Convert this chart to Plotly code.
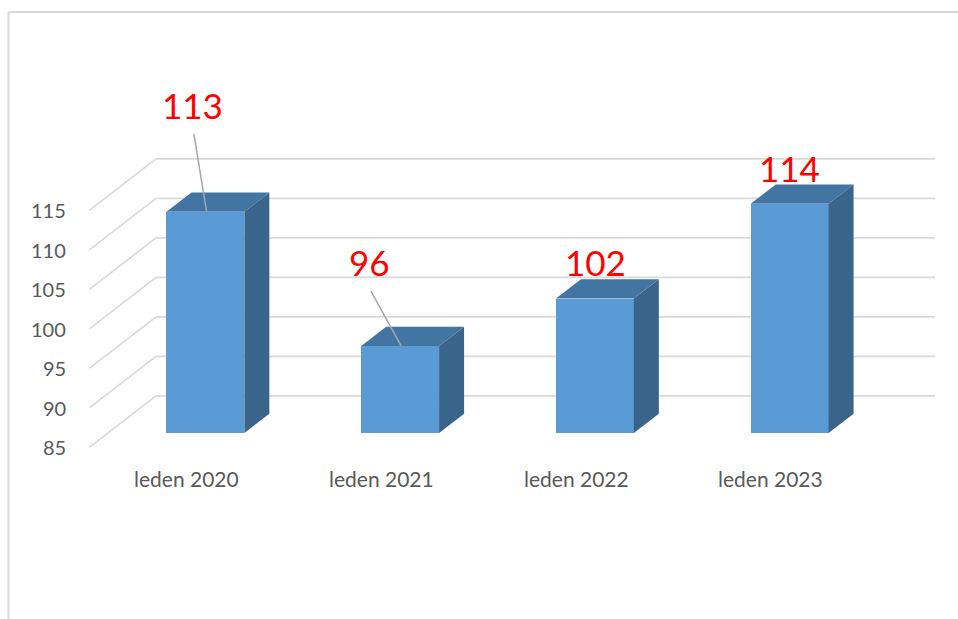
import plotly.graph_objects as go

# ---- data ----
categories = ["leden 2020", "leden 2021", "leden 2022", "leden 2023"]
values = [113, 96, 102, 114]
y_ticks = [85, 90, 95, 100, 105, 110, 115]

# ---- style / layout constants ----
BASE = 85
DX, DY = 0.3425, 6.506          # full depth offset of the 3-D box (axis units)
D0, D1 = 0.28, 0.655            # bar front / back depth fraction
W = 0.40                        # bar width (category units)
FRONT = "#5b9bd5"
TOP = "#4375a3"
SIDE = "#3a6489"
GRID = "#d9d9d9"
TXT = "#595959"
FONT = "Lato"

# label placement (offsets relative to each bar, in axis units)
lab_dx = [0.032, -0.059, 0.097, 0.093]
lab_dy = [15.35, 12.47, 6.47, 6.35]
leader = [True, True, False, False]

fig = go.Figure()
shapes = []

# back-wall gridlines and left-wall diagonals
x_left, x_right = -0.5, len(categories) - 0.5
for t in y_ticks:
    shapes.append(dict(type="line", xref="x", yref="y", layer="below",
                       x0=x_left + DX, x1=x_right + DX, y0=t + DY, y1=t + DY,
                       line=dict(color=GRID, width=1.6)))
    shapes.append(dict(type="line", xref="x", yref="y", layer="below",
                       x0=x_left, x1=x_left + DX, y0=t, y1=t + DY,
                       line=dict(color=GRID, width=1.6)))

# chart border (left + top)
shapes.append(dict(type="line", xref="paper", yref="paper", x0=8.5/958, x1=8.5/958,
                   y0=0, y1=1 - 12/619, line=dict(color="#d9d9d9", width=2)))
shapes.append(dict(type="line", xref="paper", yref="paper", x0=8.5/958, x1=1,
                   y0=1 - 12/619, y1=1 - 12/619, line=dict(color="#d9d9d9", width=2)))

# front faces as bars
fig.add_trace(go.Bar(
    x=[i + D0 * DX for i in range(len(values))],
    y=[v - BASE for v in values],
    base=BASE + D0 * DY,
    width=W,
    marker=dict(color=FRONT, line=dict(width=0)),
    hoverinfo="skip", showlegend=False,
))

# side and top faces
for i, v in enumerate(values):
    xr0 = i + W / 2 + D0 * DX
    xr1 = i + W / 2 + D1 * DX
    xl0 = i - W / 2 + D0 * DX
    xl1 = i - W / 2 + D1 * DX
    fig.add_trace(go.Scatter(
        x=[xr0, xr0, xr1, xr1, xr0],
        y=[BASE + D0 * DY, v + D0 * DY, v + D1 * DY, BASE + D1 * DY, BASE + D0 * DY],
        fill="toself", fillcolor=SIDE, mode="lines", line=dict(width=0, color=SIDE),
        hoverinfo="skip", showlegend=False))
    fig.add_trace(go.Scatter(
        x=[xl0, xr0, xr1, xl1, xl0],
        y=[v + D0 * DY, v + D0 * DY, v + D1 * DY, v + D1 * DY, v + D0 * DY],
        fill="toself", fillcolor=TOP, mode="lines", line=dict(width=0, color=TOP),
        hoverinfo="skip", showlegend=False))

# leader lines for moved labels
for i, v in enumerate(values):
    if leader[i]:
        fig.add_trace(go.Scatter(
            x=[i + lab_dx[i] + 0.005, i + 0.102],
            y=[v + lab_dy[i] - 3.7, v + D0 * DY],
            mode="lines", line=dict(color="#a6a6a6", width=1.5),
            hoverinfo="skip", showlegend=False))

annotations = []
# data labels
for i, v in enumerate(values):
    annotations.append(dict(x=i + lab_dx[i], y=v + lab_dy[i], xref="x", yref="y",
                            text=str(v), showarrow=False,
                            font=dict(family=FONT, size=35, color="#ff0000"),
                            xanchor="center", yanchor="middle"))
# value axis labels
for t in y_ticks:
    annotations.append(dict(x=x_left, y=t, xref="x", yref="y", text=str(t),
                            showarrow=False, xanchor="right", yanchor="middle",
                            xshift=-21, font=dict(family=FONT, size=20, color=TXT)))
# category labels
for i, c in enumerate(categories):
    annotations.append(dict(x=i, y=BASE, xref="x", yref="y", text=c,
                            showarrow=False, xanchor="center", yanchor="middle",
                            yshift=-31, font=dict(family=FONT, size=21, color=TXT)))

fig.update_layout(
    width=958, height=619,
    margin=dict(l=0, r=0, t=0, b=0),
    paper_bgcolor="white", plot_bgcolor="white",
    xaxis=dict(range=[-0.9587, 3.9605], visible=False, fixedrange=True),
    yaxis=dict(range=[63.27, 141.62], visible=False, fixedrange=True),
    shapes=shapes, annotations=annotations,
    bargap=0, showlegend=False,
)

fig.write_html("out.html", config={"displayModeBar": False},
               post_script="document.body.style.margin='0';document.body.style.overflow='hidden';")
